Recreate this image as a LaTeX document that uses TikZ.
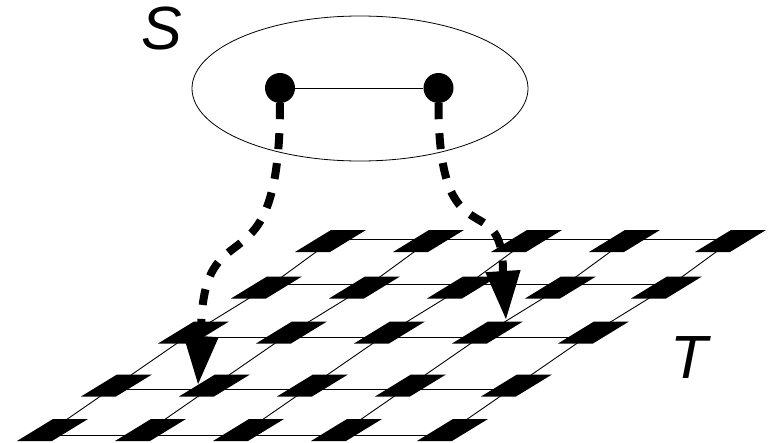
\documentclass[tikz,border=0pt]{standalone}
\usepackage{fontspec}
\setmainfont{Liberation Sans}
\usetikzlibrary{arrows.meta,shapes.geometric}

\begin{document}
\begin{tikzpicture}[x=1pt,y=-1pt,
    dot/.style={circle,fill=black,inner sep=0pt,minimum size=30pt},
    gridline/.style={line width=0.9pt},
    tile/.style={fill=black},
    mapline/.style={line width=8pt,dash pattern=on 16pt off 14pt,
      -{Triangle[length=49pt,width=33pt]}},
    letter/.style={inner sep=0pt,font=\fontsize{61}{61}\selectfont\itshape}]
  \useasboundingbox (0,0) rectangle (768,442);
  % target grid: row / line y / first vertex x / first tile x / tile y
  \foreach \r/\ly/\vx/\tx/\ty in {1/239/333.8/330.5/241,2/284/272.2/266.5/287.5,
      3/337/186.1/193.5/332.5,4/389/110.8/116.5/385.5,5/435/44.3/52.5/430}{
    \foreach \c/\dx in {1/0,2/98,3/196,4/294,5/400}{
      \coordinate (v-\r-\c) at (\vx+\dx,\ly);
      \coordinate (t-\r-\c) at (\tx+\dx,\ty);
    }
    \draw[gridline] (v-\r-1) -- (v-\r-5);
  }
  \foreach \c in {1,...,5}
    \draw[gridline] (v-1-\c) -- (v-2-\c) -- (v-3-\c) -- (v-4-\c) -- (v-5-\c);
  \foreach \r in {1,...,5}
    \foreach \c in {1,...,5}
      \fill[tile] (t-\r-\c) ++(-35.5,11) -- ++(35,0) -- ++(36,-22) -- ++(-35,0) -- cycle;
  \node[letter] (labT) at (689.5,357.5) {T};

  % source graph S
  \node[draw,ellipse,line width=0.8pt,minimum width=336pt,minimum height=145pt] (setS) at (360,88.5) {};
  \node[letter] (labS) at (162,29) {S};
  \node[dot] (a) at (280,88) {};
  \node[dot] (b) at (438.5,88) {};
  \draw[gridline] (a) -- (b);

  % the map
  \coordinate (baseL) at (201,336);
  \coordinate (hitL) at (198,385);
  \coordinate (baseR) at (503,272);
  \coordinate (hitR) at (506,320);
  \draw[mapline] (a.south) .. controls (280,305) and (201,197) .. (baseL) -- (hitL);
  \draw[mapline] (b.south) .. controls (438.5,265) and (503,183) .. (baseR) -- (hitR);
\end{tikzpicture}
\end{document}
